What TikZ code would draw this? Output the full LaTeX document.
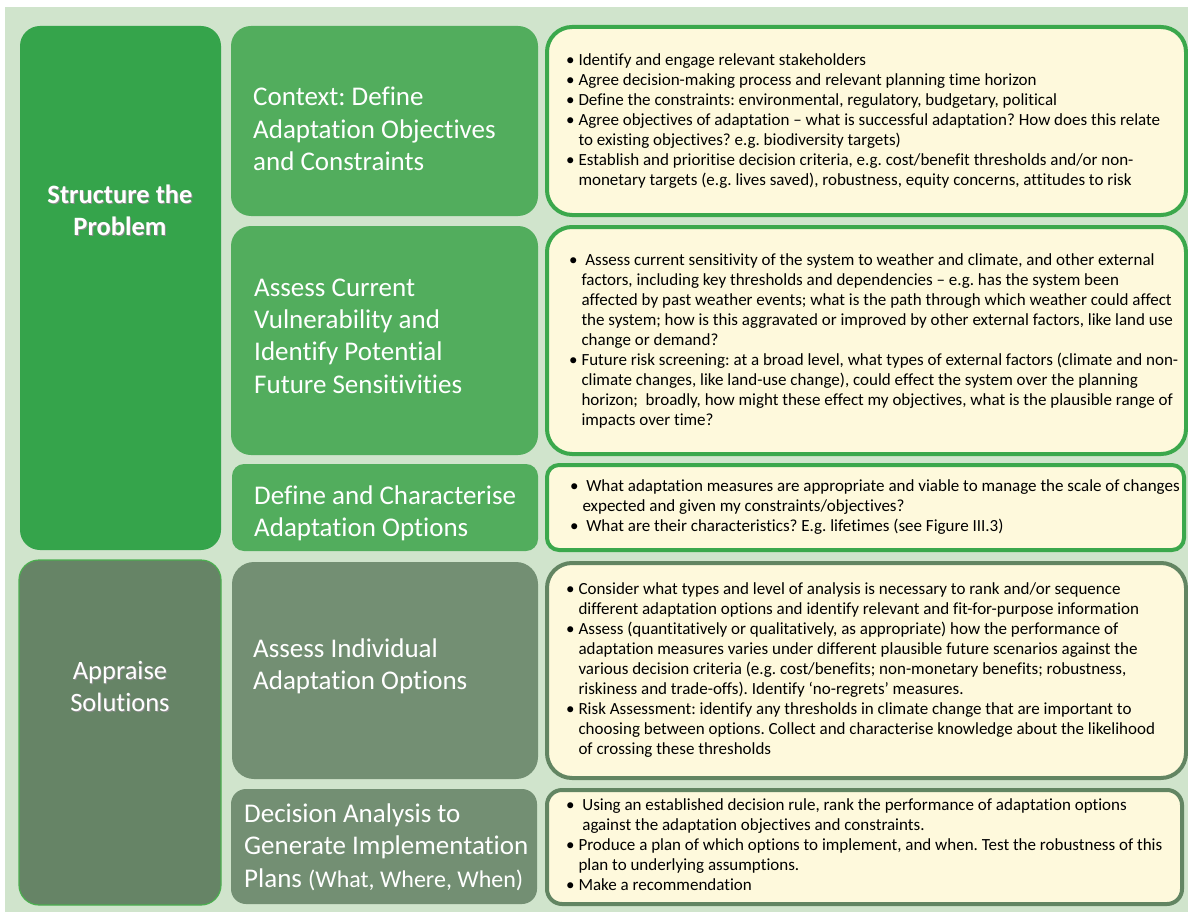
\documentclass[tikz,border=0pt]{standalone}
\usepackage{fontspec}
\setmainfont{Carlito}[Ligatures=NoCommon]
\usetikzlibrary{positioning}
\definecolor{bggreen}{RGB}{208,228,204}
\definecolor{stagegreen}{RGB}{53,164,75}
\definecolor{stepgreen}{RGB}{82,173,93}
\definecolor{stagegrey}{RGB}{102,132,102}
\definecolor{stepgrey}{RGB}{115,143,115}
\definecolor{notecream}{RGB}{254,249,220}
\definecolor{noteedge}{RGB}{59,168,76}
\definecolor{notegrey}{RGB}{98,133,98}
\definecolor{stageedge}{RGB}{76,175,80}
\newcommand{\bul}{\textbullet\ }
\newcommand{\hang}{\hphantom{\textbullet\ }}
\frenchspacing

\begin{document}
\begin{tikzpicture}[x=1pt,y=-1pt,
  panel/.style={inner sep=0pt,outer sep=0pt,rounded corners=20pt},
  stagetext/.style={text=white,font=\fontsize{26.5}{32}\selectfont\bfseries,align=center},
  steptext/.style={text=white,font=\fontsize{27}{32.3}\selectfont,align=left,inner sep=0pt,anchor=west},
  notebox/.style={panel,fill=notecream,line width=4pt,rounded corners=25pt},
  notetext/.style={font=\fontsize{17}{20}\selectfont,align=left,inner sep=0pt,anchor=west}]
\useasboundingbox (0,0) rectangle (1188,912);
\fill[bggreen] (5,7) rectangle (1188,912);

% the two stages
\node[panel,fill=stagegreen,minimum width=201pt,minimum height=524pt] (structure) at (120.5,288) {};
\node[panel,fill=stagegrey,draw=stageedge,line width=1.2pt,minimum width=202pt,minimum height=345pt] (appraise) at (120,732.5) {};
\node[stagetext,text=black!45,xshift=1pt,yshift=-1.5pt] (structureshade) at (120,210) {Structure the\\Problem};
\node[stagetext] (structurelbl) at (120,210) {Structure the\\Problem};
\node[stagetext,font=\fontsize{26.5}{32}\selectfont,text=black!45,xshift=1pt,yshift=-1.5pt] (appraiseshade) at (120,686) {Appraise\\Solutions};
\node[stagetext,font=\fontsize{26.5}{32}\selectfont] (appraiselbl) at (120,686) {Appraise\\Solutions};

% steps
\node[panel,fill=stepgreen,minimum width=307pt,minimum height=190pt] (context) at (384.5,121) {};
\node[panel,fill=stepgreen,minimum width=307pt,minimum height=229pt] (current) at (384.5,340.5) {};
\node[panel,fill=stepgreen,rounded corners=12pt,minimum width=306pt,minimum height=87pt] (options) at (385,507.5) {};
\node[panel,fill=stepgrey,rounded corners=22pt,minimum width=306pt,minimum height=217pt] (individual) at (385,670.5) {};
\node[panel,fill=stepgrey,rounded corners=15pt,minimum width=306pt,minimum height=115pt] (decision) at (384,846.5) {};

\node[steptext] (contextlbl) at (253,129) {Context: Define\\Adaptation Objectives\\and Constraints};
\node[steptext] (currentlbl) at (254,336) {Assess Current\\Vulnerability and\\Identify Potential\\Future Sensitivities};
\node[steptext] (optionslbl) at (254,513) {Define and Characterise\\Adaptation Options};
\node[steptext] (individuallbl) at (253,666) {Assess Individual\\Adaptation Options};
\node[steptext] (decisionlbl) at (244,847) {Decision Analysis to\\Generate Implementation\\Plans {\fontsize{24}{32.3}\selectfont(What, Where, When)}};

% notes
\node[notebox,draw=noteedge,minimum width=639pt,minimum height=188pt] (contextnote) at (866.5,121) {};
\node[notebox,draw=noteedge,minimum width=639pt,minimum height=227pt] (currentnote) at (866.5,340.5) {};
\node[notebox,draw=noteedge,rounded corners=12pt,minimum width=637pt,minimum height=85pt] (optionsnote) at (865.5,507.5) {};
\node[notebox,draw=notegrey,minimum width=639pt,minimum height=215pt] (individualnote) at (866.5,670.5) {};
\node[notebox,draw=notegrey,rounded corners=15pt,minimum width=635pt,minimum height=114pt] (decisionnote) at (864.5,847) {};

\node[notetext] (contextitems) at (566,121) {\bul Identify and engage relevant stakeholders\\
\bul Agree decision-making process and relevant planning time horizon\\
\bul Define the constraints: environmental, regulatory, budgetary, political\\
\bul Agree objectives of adaptation -- what is successful adaptation? How does this relate\\
\hang to existing objectives? e.g. biodiversity targets)\\
\bul Establish and prioritise decision criteria, e.g. cost/benefit thresholds and/or non-\\
\hang monetary targets (e.g. lives saved), robustness, equity concerns, attitudes to risk};
\node[notetext] (currentitems) at (569,341) {\bul\ Assess current sensitivity of the system to weather and climate, and other external\\
\hang factors, including key thresholds and dependencies -- e.g. has the system been\\
\hang affected by past weather events; what is the path through which weather could affect\\
\hang the system; how is this aggravated or improved by other external factors, like land use\\
\hang change or demand?\\
\bul Future risk screening: at a broad level, what types of external factors (climate and non-\\
\hang climate changes, like land-use change), could effect the system over the planning\\
\hang horizon;\ \ broadly, how might these effect my objectives, what is the plausible range of\\
\hang impacts over time?};
\node[notetext] (optionsitems) at (570,507) {\bul\ What adaptation measures are appropriate and viable to manage the scale of changes\\
\hang expected and given my constraints/objectives?\\
\bul\ What are their characteristics? E.g. lifetimes (see Figure III.3)};
\node[notetext] (individualitems) at (566,670) {\bul Consider what types and level of analysis is necessary to rank and/or sequence\\
\hang different adaptation options and identify relevant and fit-for-purpose information\\
\bul Assess (quantitatively or qualitatively, as appropriate) how the performance of\\
\hang adaptation measures varies under different plausible future scenarios against the\\
\hang various decision criteria (e.g. cost/benefits; non-monetary benefits; robustness,\\
\hang riskiness and trade-offs). Identify `no-regrets' measures.\\
\bul Risk Assessment: identify any thresholds in climate change that are important to\\
\hang choosing between options. Collect and characterise knowledge about the likelihood\\
\hang of crossing these thresholds};
\node[notetext] (decisionitems) at (566,845) {\bul\ Using an established decision rule, rank the performance of adaptation options\\
\hang\ against the adaptation objectives and constraints.\\
\bul Produce a plan of which options to implement, and when. Test the robustness of this\\
\hang plan to underlying assumptions.\\
\bul Make a recommendation};
\end{tikzpicture}
\end{document}
